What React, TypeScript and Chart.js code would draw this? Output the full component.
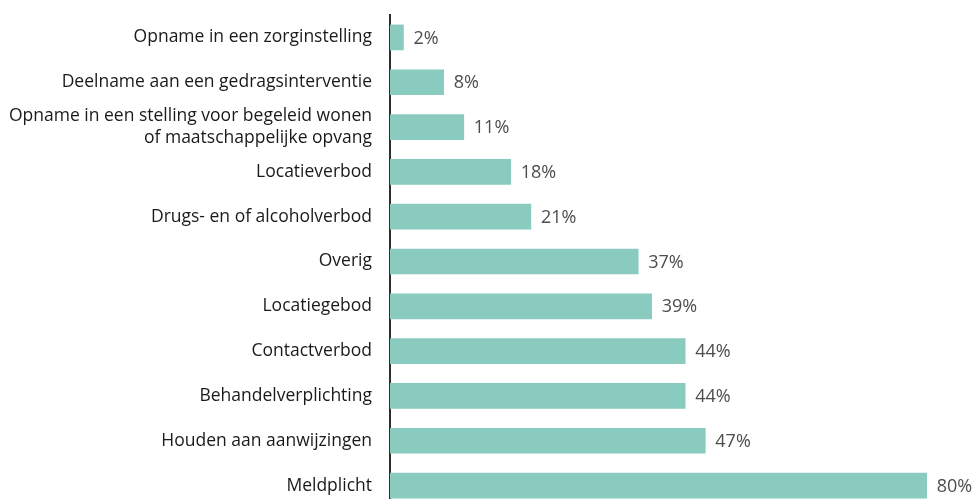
import React, { useEffect, useRef } from "react";
import { Chart, registerables } from "chart.js";

Chart.register(...registerables);

const categories: (string | string[])[] = [
  "Opname in een zorginstelling",
  "Deelname aan een gedragsinterventie",
  ["Opname in een stelling voor begeleid wonen", "of maatschappelijke opvang"],
  "Locatieverbod",
  "Drugs- en of alcoholverbod",
  "Overig",
  "Locatiegebod",
  "Contactverbod",
  "Behandelverplichting",
  "Houden aan aanwijzingen",
  "Meldplicht",
];
const values: number[] = [2, 8, 11, 18, 21, 37, 39, 44, 44, 47, 80];

const FONT = "'Open Sans', sans-serif";

const valueLabels = {
  id: "valueLabels",
  afterDatasetsDraw(chart: any) {
    const ctx = chart.ctx;
    const meta = chart.getDatasetMeta(0);
    ctx.save();
    ctx.font = `18px ${FONT}`;
    ctx.fillStyle = "#4d4d4d";
    ctx.textAlign = "left";
    ctx.textBaseline = "middle";
    meta.data.forEach((bar: any, i: number) => {
      ctx.fillText(`${values[i]}%`, bar.x + 10, bar.y + 1);
    });
    ctx.restore();
  },
};

export default function App() {
  const ref = useRef<HTMLCanvasElement | null>(null);
  useEffect(() => {
    document.body.style.margin = "0";
    if (!ref.current) return;
    const chart = new Chart(ref.current, {
      type: "bar",
      data: {
        labels: categories,
        datasets: [
          {
            data: values,
            backgroundColor: "#89cbbf",
            borderWidth: 0,
            barThickness: 25,
          },
        ],
      },
      options: {
        indexAxis: "y",
        animation: false,
        responsive: false,
        maintainAspectRatio: false,
        layout: { padding: { top: 15, bottom: 0, left: 0, right: 0 } },
        plugins: { legend: { display: false }, tooltip: { enabled: false } },
        scales: {
          x: { display: false, min: 0, max: 87.5 },
          y: {
            z: 1,
            afterFit(scale: any) {
              scale.width = 390;
              scale.paddingTop = 0;
              scale.paddingBottom = 0;
            },
            grid: { display: false, drawTicks: false },
            border: { display: true, color: "#2e2e2e", width: 2 },
            ticks: {
              autoSkip: false,
              color: "#1a1a1a",
              padding: 18,
              font: { family: FONT, size: 17.5, lineHeight: 1.3 },
            },
          },
        },
      },
      plugins: [valueLabels],
    });
    return () => chart.destroy();
  }, []);
  return (
    <div style={{ width: 977, height: 499, overflow: "hidden", position: "relative" }}>
      <canvas ref={ref} width={977} height={508} style={{ display: "block" }} />
    </div>
  );
}
